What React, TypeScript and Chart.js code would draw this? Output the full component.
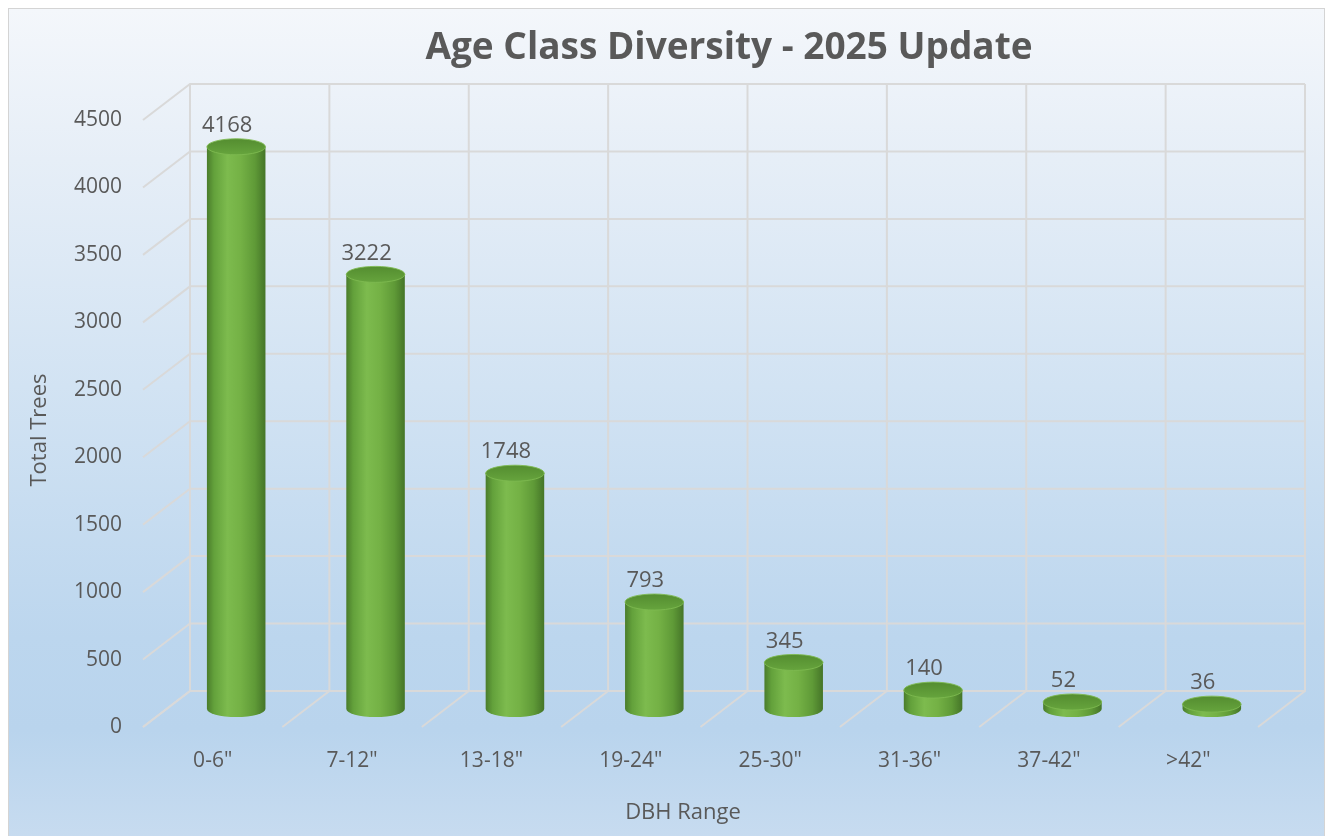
import React, { useEffect, useRef } from "react";
import { Chart, registerables } from "chart.js";

Chart.register(...registerables);

const categories = ['0-6"', '7-12"', '13-18"', '19-24"', '25-30"', '31-36"', '37-42"', '>42"'];
const totalTrees = [4168, 3222, 1748, 793, 345, 140, 52, 36];
const yTickValues = [0, 500, 1000, 1500, 2000, 2500, 3000, 3500, 4000, 4500];
const chartTitle = "Age Class Diversity - 2025 Update";
const xAxisTitle = "DBH Range";
const yAxisTitle = "Total Trees";

const FONT = '"Open Sans", "Liberation Sans", sans-serif';
const TEXT = "#595959";
const GRID = "#d9d9d9";
const DX = 47;
const DY = 36;
const W = 1315;
const H = 838;

const depthPlugin = {
  id: "depth3d",
  beforeDatasetsDraw(chart: any) {
    const { ctx, chartArea, scales } = chart;
    const ys = scales.y;
    const { left, right, bottom } = chartArea;
    const topBack = ys.getPixelForValue(yTickValues[yTickValues.length - 1]) - DY;
    ctx.save();
    ctx.strokeStyle = GRID;
    ctx.lineWidth = 2;
    for (const v of yTickValues) {
      const yf = ys.getPixelForValue(v);
      ctx.beginPath();
      ctx.moveTo(left, yf);
      ctx.lineTo(left + DX, yf - DY);
      ctx.lineTo(right + DX, yf - DY);
      ctx.stroke();
    }
    const n = categories.length;
    for (let i = 0; i <= n; i++) {
      const xf = left + ((right - left) * i) / n;
      ctx.beginPath();
      ctx.moveTo(xf, bottom);
      ctx.lineTo(xf + DX, bottom - DY);
      ctx.lineTo(xf + DX, topBack);
      ctx.stroke();
    }
    ctx.restore();
  },
  afterDatasetsDraw(chart: any) {
    const { ctx } = chart;
    const meta = chart.getDatasetMeta(0);
    const values = chart.data.datasets[0].data as number[];
    ctx.save();
    meta.data.forEach((el: any, i: number) => {
      const cx = el.x + DX / 2;
      const ty = el.y - DY / 2;
      const by = el.base - DY / 2;
      const rx = el.width / 2;
      const ry = 8;
      const g = ctx.createLinearGradient(cx - rx, 0, cx + rx, 0);
      g.addColorStop(0, "#4a7c2b");
      g.addColorStop(0.12, "#63a13b");
      g.addColorStop(0.35, "#7dbb4e");
      g.addColorStop(0.58, "#74b145");
      g.addColorStop(0.82, "#5f9a37");
      g.addColorStop(1, "#457528");
      ctx.beginPath();
      ctx.moveTo(cx - rx, ty);
      ctx.lineTo(cx - rx, by);
      ctx.ellipse(cx, by, rx, ry, 0, Math.PI, 0, true);
      ctx.lineTo(cx + rx, ty);
      ctx.closePath();
      ctx.fillStyle = g;
      ctx.fill();
      const tg = ctx.createLinearGradient(0, ty - ry, 0, ty + ry);
      tg.addColorStop(0, "#548d30");
      tg.addColorStop(1, "#66a43d");
      ctx.beginPath();
      ctx.ellipse(cx, ty, rx, ry, 0, 0, Math.PI * 2);
      ctx.fillStyle = tg;
      ctx.fill();
      ctx.strokeStyle = "rgba(125,185,80,0.9)";
      ctx.lineWidth = 1;
      ctx.stroke();
      ctx.fillStyle = TEXT;
      ctx.font = `22px ${FONT}`;
      ctx.textAlign = "center";
      ctx.textBaseline = "middle";
      ctx.fillText(String(values[i]), cx - 9, ty - 21);
    });
    ctx.restore();
  },
  afterDraw(chart: any) {
    const { ctx } = chart;
    ctx.save();
    ctx.fillStyle = TEXT;
    ctx.textAlign = "center";
    ctx.textBaseline = "middle";
    ctx.font = `bold 37px ${FONT}`;
    ctx.fillText(chartTitle, 720, 39);
    ctx.font = `22px ${FONT}`;
    ctx.fillText(xAxisTitle, 674, 804);
    ctx.translate(31, 421);
    ctx.rotate(-Math.PI / 2);
    ctx.fillText(yAxisTitle, 0, 0);
    ctx.restore();
  },
};

export default function App() {
  const ref = useRef<HTMLCanvasElement | null>(null);
  useEffect(() => {
    if (!ref.current) return;
    const chart = new Chart(ref.current, {
      type: "bar",
      data: {
        labels: categories,
        datasets: [
          {
            label: yAxisTitle,
            data: totalTrees,
            backgroundColor: "rgba(0,0,0,0)",
            borderWidth: 0,
            barPercentage: 0.42,
            categoryPercentage: 1,
          },
        ],
      },
      options: {
        animation: false,
        responsive: false,
        devicePixelRatio: 1,
        layout: { padding: { top: 111, right: 66, bottom: 0, left: 0 } },
        plugins: {
          legend: { display: false },
          tooltip: { enabled: false },
          title: { display: false },
        },
        scales: {
          x: {
            grid: { display: false, drawTicks: false },
            border: { display: false },
            ticks: { color: TEXT, font: { family: FONT, size: 21 }, padding: 21, maxRotation: 0 },
            afterFit: (s: any) => {
              s.height = 120;
            },
          },
          y: {
            min: 0,
            max: 4500,
            grid: { display: false, drawTicks: false },
            border: { display: false },
            ticks: {
              stepSize: 500,
              color: TEXT,
              font: { family: FONT, size: 21 },
              padding: 21,
              callback: (v: any) => String(v),
            },
            afterFit: (s: any) => {
              s.width = 134;
            },
          },
        },
      },
      plugins: [depthPlugin],
    });
    return () => chart.destroy();
  }, []);
  return (
    <div
      style={{
        width: 1317,
        height: 840,
        boxSizing: "border-box",
        border: "1px solid #d4d4d4",
        background:
          "linear-gradient(to bottom, #f4f7fb 0%, #e6eef7 18%, #d2e3f3 45%, #bcd6ee 75%, #b9d4ed 86%, #c8dcf0 100%)",
      }}
    >
      <canvas ref={ref} width={W} height={H} style={{ display: "block", width: W, height: H }} />
    </div>
  );
}
